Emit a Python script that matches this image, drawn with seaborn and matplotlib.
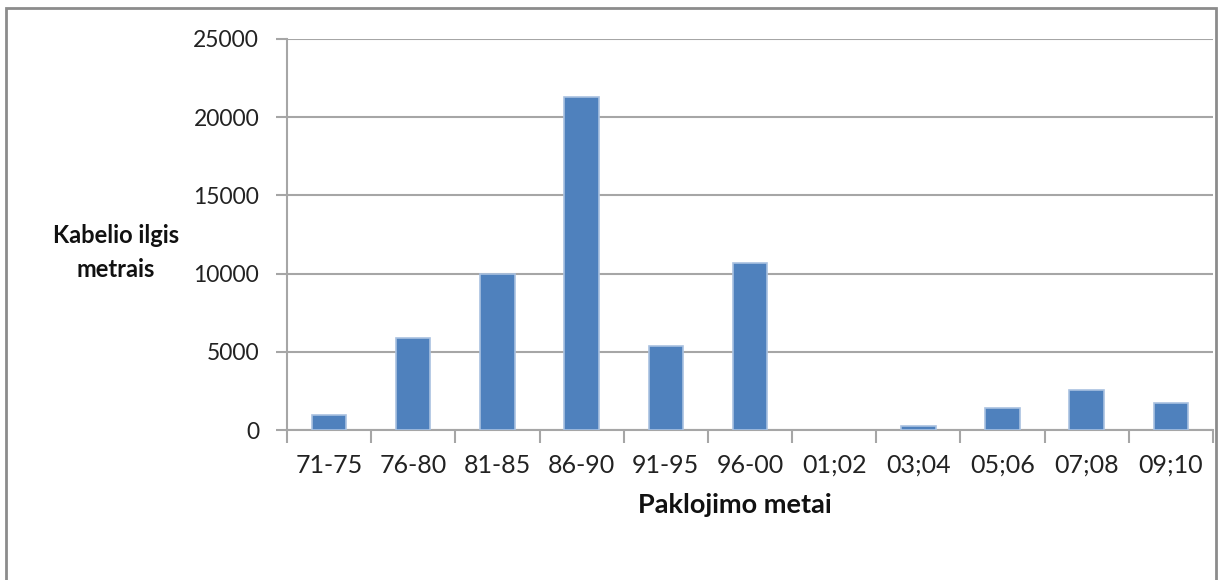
import matplotlib
matplotlib.use("Agg")
import matplotlib.pyplot as plt
import seaborn as sns
import pandas as pd
from matplotlib.patches import Rectangle

categories = ["71-75", "76-80", "81-85", "86-90", "91-95", "96-00",
              "01;02", "03;04", "05;06", "07;08", "09;10"]
lengths = [950, 5900, 10000, 21300, 5350, 10700, 0, 250, 1400, 2550, 1700]
yticks = [0, 5000, 10000, 15000, 20000, 25000]

sns.set_theme(style="white")
plt.rcParams["font.family"] = ["Lato", "DejaVu Sans"]

df = pd.DataFrame({"metai": categories, "ilgis": lengths})

fig = plt.figure(figsize=(12.18, 5.8), dpi=100)
fig.patch.set_facecolor("white")
ax = fig.add_axes([0.2356, 0.2586, 0.7603, 0.6742])

sns.barplot(data=df, x="metai", y="ilgis", color="#4F81BD", saturation=1,
            width=0.41, edgecolor="#a9c1e0", linewidth=1.2, ax=ax, zorder=3)
for bar in ax.patches:
    if bar.get_height() == 0:
        bar.set_linewidth(0)

ax.set_ylim(0, 25000)
ax.set_xlim(-0.5, len(categories) - 0.5)
ax.set_yticks(yticks)
ax.set_yticklabels([str(v) for v in yticks])
ax.yaxis.grid(True, color="#a6a6a6", linewidth=1.5, zorder=0)
ax.set_axisbelow(True)

for side in ["top", "right"]:
    ax.spines[side].set_visible(False)
for side in ["left", "bottom"]:
    ax.spines[side].set_color("#a6a6a6")
    ax.spines[side].set_linewidth(1.5)

# category boundary ticks on x axis
ax.set_xticks([i - 0.5 for i in range(len(categories) + 1)], minor=True)
ax.tick_params(axis="x", which="minor", length=9, width=1.5, color="#a6a6a6",
               direction="out", bottom=True)
ax.tick_params(axis="x", which="major", length=0, pad=17, labelsize=18,
               labelcolor="#222222")
ax.tick_params(axis="y", which="major", length=8, width=1.5, color="#a6a6a6",
               direction="out", left=True, pad=12, labelsize=16.5,
               labelcolor="#222222")

ax.set_xlabel("")
ax.set_ylabel("")
fig.text(0.603, 0.129, "Paklojimo metai", ha="center", va="center",
         fontsize=19.5, fontweight="bold", color="#111111")
fig.text(0.095, 0.565, "Kabelio ilgis\nmetrais", ha="center", va="center",
         fontsize=17, fontweight="bold", color="#111111", linespacing=1.55)

# outer chart frame
fig.patches.append(Rectangle((6 / 1218, -0.05), 1210 / 1218, 1.05 - 8 / 580,
                             transform=fig.transFigure, fill=False,
                             edgecolor="#8c8c8c", linewidth=2))

fig.savefig("out.png", dpi=100, facecolor="white")
